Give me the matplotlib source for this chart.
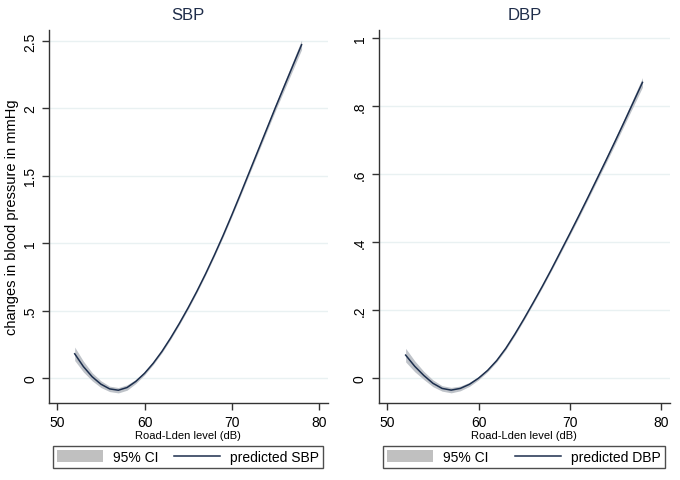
import matplotlib
matplotlib.use("Agg")
import matplotlib.pyplot as plt
from matplotlib.patches import Patch
from matplotlib.lines import Line2D
from matplotlib.ticker import FuncFormatter

plt.rcParams["font.family"] = ["Liberation Sans", "DejaVu Sans"]

# --- data ---
noise_db = [52, 53, 54, 55, 56, 57, 58, 59, 60, 61, 62, 63, 64, 65,
            66, 67, 68, 69, 70, 71, 72, 73, 74, 75, 76, 77, 78]

sbp_pred = [0.18, 0.085, 0.01, -0.045, -0.08, -0.09, -0.07, -0.025, 0.035, 0.11,
            0.198, 0.298, 0.406, 0.521, 0.643, 0.773, 0.911, 1.056, 1.208, 1.365,
            1.525, 1.685, 1.845, 2.005, 2.161, 2.316, 2.471]
sbp_hw = [0.05, 0.04, 0.03, 0.025, 0.02, 0.02, 0.02, 0.015, 0.012, 0.01,
          0.01, 0.01, 0.01, 0.01, 0.01, 0.01, 0.01, 0.012, 0.012, 0.014,
          0.016, 0.018, 0.02, 0.024, 0.028, 0.032, 0.036]

dbp_pred = [0.068, 0.035, 0.008, -0.015, -0.03, -0.035, -0.03, -0.018, 0.0, 0.023,
            0.052, 0.088, 0.13, 0.175, 0.222, 0.27, 0.32, 0.372, 0.424, 0.477,
            0.531, 0.586, 0.641, 0.697, 0.754, 0.812, 0.87]
dbp_hw = [0.02, 0.016, 0.012, 0.01, 0.008, 0.008, 0.007, 0.006, 0.005, 0.004,
          0.004, 0.004, 0.004, 0.004, 0.004, 0.004, 0.004, 0.005, 0.005, 0.006,
          0.006, 0.007, 0.008, 0.009, 0.01, 0.012, 0.014]

sbp_ticks = [0, 0.5, 1, 1.5, 2, 2.5]
dbp_ticks = [0, 0.2, 0.4, 0.6, 0.8, 1]
x_ticks = [50, 60, 70, 80]

LINE_C = "#1c2e4d"
BAND_C = "#bfc3c9"
GRID_C = "#e9f1f2"
AX_C = "#333333"


def stata_fmt(v, pos):
    s = f"{v:g}"
    if s.startswith("0."):
        s = s[1:]
    return s


def draw_panel(ax, pred, hw, title, yticks, ylim, label):
    lo = [p - h for p, h in zip(pred, hw)]
    hi = [p + h for p, h in zip(pred, hw)]
    ax.fill_between(noise_db, lo, hi, color=BAND_C, lw=0, zorder=2)
    ax.plot(noise_db, pred, color=LINE_C, lw=1.1, zorder=3)

    ax.set_xlim(49.05, 81.0)
    ax.set_ylim(*ylim)
    ax.set_xticks(x_ticks)
    ax.set_yticks(yticks)
    ax.yaxis.set_major_formatter(FuncFormatter(stata_fmt))
    ax.grid(axis="y", color=GRID_C, lw=1, zorder=0)
    ax.set_axisbelow(True)

    for s in ["top", "right"]:
        ax.spines[s].set_visible(False)
    for s in ["left", "bottom"]:
        ax.spines[s].set_color(AX_C)
        ax.spines[s].set_linewidth(1.0)
    ax.tick_params(colors=AX_C, labelcolor="black", length=5, width=1,
                   labelsize=10)
    for t in ax.get_yticklabels():
        t.set_rotation(90)
        t.set_va("center")

    ax.set_title(title, fontsize=12, color="#1f2d4a", pad=8)
    ax.set_xlabel("Road-Lden level (dB)", fontsize=8, labelpad=1)

    handles = [Patch(facecolor="#c0c0c0", edgecolor="none"),
               Line2D([], [], color=LINE_C, lw=1.1)]
    leg = ax.legend(handles, ["95% CI", label], loc="lower left",
                    bbox_to_anchor=(0.014, -0.175, 0.968, 0.064),
                    mode="expand", ncol=2, fontsize=10, frameon=True,
                    fancybox=False, edgecolor="#222222", handlelength=3.3,
                    handleheight=0.95, handletextpad=0.7, borderpad=0.3,
                    borderaxespad=0)
    leg.get_frame().set_linewidth(1.0)


fig = plt.figure(figsize=(6.8, 4.81), dpi=100)
ax1 = fig.add_axes([0.072, 0.160, 0.410, 0.7755])
ax2 = fig.add_axes([0.557, 0.160, 0.428, 0.7755])

draw_panel(ax1, sbp_pred, sbp_hw, "SBP", sbp_ticks, (-0.185, 2.58), "predicted SBP")
draw_panel(ax2, dbp_pred, dbp_hw, "DBP", dbp_ticks, (-0.073, 1.024), "predicted DBP")

ax1.set_ylabel("changes in blood pressure in mmHg", fontsize=10.5, labelpad=3)

fig.savefig("out.png", dpi=100, facecolor="white")
